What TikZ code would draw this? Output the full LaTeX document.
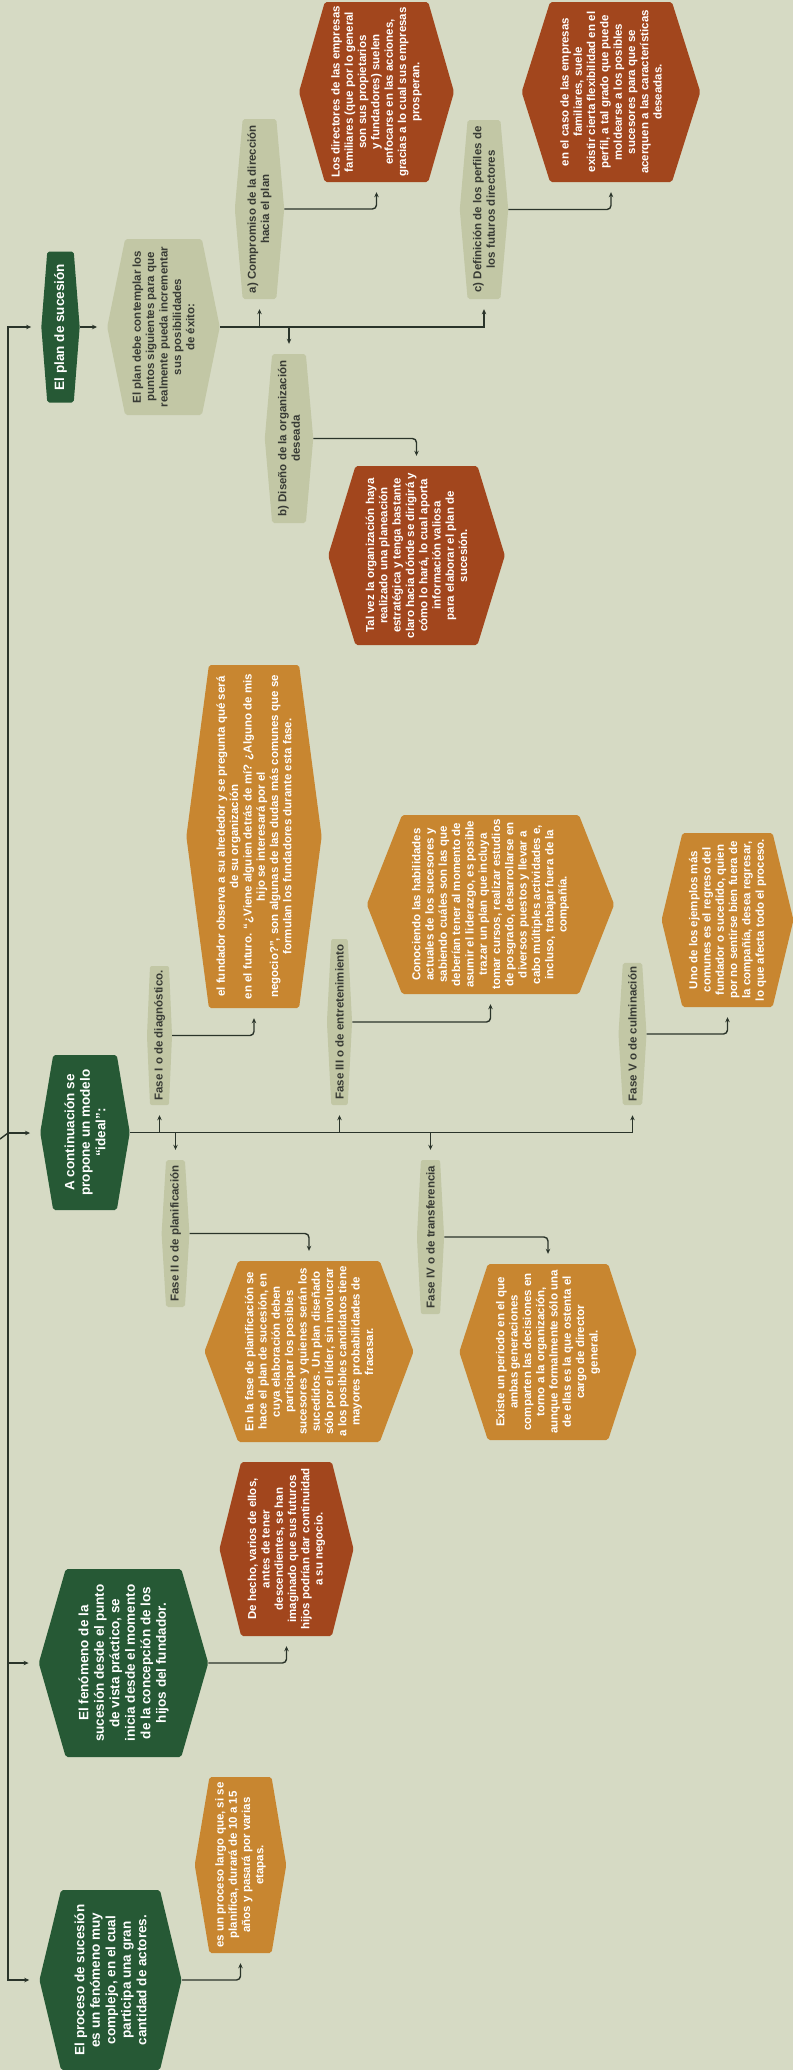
\documentclass[tikz,border=0pt]{standalone}
\usepackage{fontspec}
\setmainfont{Liberation Sans}
\usetikzlibrary{shapes.symbols,arrows.meta}
\definecolor{PageBg}{RGB}{214,218,196}
\definecolor{DeepGreen}{RGB}{38,89,53}
\definecolor{SoftOlive}{RGB}{194,199,165}
\definecolor{RustRed}{RGB}{162,70,29}
\definecolor{Ochre}{RGB}{200,134,48}
\definecolor{InkGray}{RGB}{55,58,52}
\definecolor{LineGray}{RGB}{42,52,42}

\begin{document}
\begin{tikzpicture}[
  x=1pt, y=-1pt,
  hexa/.style={signal, signal to=north and south, rotate=90, align=center, rounded corners=2pt, inner xsep=4pt, inner ysep=4pt},
  topic/.style={hexa, fill=DeepGreen, text=white, font=\bfseries\fontsize{13.5}{15.5}\selectfont},
  tag/.style={hexa, fill=SoftOlive, text=InkGray, font=\bfseries\fontsize{11.5}{13.4}\selectfont},
  redbox/.style={hexa, fill=RustRed, text=white, font=\bfseries\fontsize{11.5}{13.3}\selectfont},
  ochrebox/.style={hexa, fill=Ochre, text=white, font=\bfseries\fontsize{11.5}{13.3}\selectfont},
  conn/.style={draw=LineGray, line width=1.4pt, -{Stealth[length=5pt,width=4.5pt]}, shorten >=10pt},
  elbow/.style={conn, rounded corners=4pt}
]
\fill[PageBg] (0,0) rectangle (793,2070);
\useasboundingbox (0,0) rectangle (793,2070);

% main topics
\node[topic, minimum width=151, minimum height=37, signal pointer angle=171] (plan) at (60.5,327) {El plan de sucesión};
\node[topic, minimum width=155, minimum height=86, signal pointer angle=161] (cont) at (85,1132.5) {A continuación se\\propone un modelo\\“ideal”:};
\node[topic, minimum width=188, minimum height=163, signal pointer angle=148] (fen) at (123.5,1663) {El fenómeno de la\\sucesión desde el punto\\de vista práctico, se\\inicia desde el momento\\de la concepción de los\\hijos del fundador.};
\node[topic, minimum width=180, minimum height=137, signal pointer angle=153] (proc) at (110.5,1980) {El proceso de sucesión\\es un fenómeno muy\\complejo, en el cual\\participa una gran\\cantidad de actores.};

% plan de sucesion
\node[tag, minimum width=176, minimum height=111, signal pointer angle=157] (p1) at (163.5,327) {El plan debe contemplar los\\puntos siguientes para que\\realmente pueda incrementar\\sus posibilidades\\de éxito:};
\node[tag, minimum width=180, minimum height=49, signal pointer angle=170] (a) at (259.5,209) {a) Compromiso de la dirección\\hacia el plan};
\node[tag, minimum width=169, minimum height=48, signal pointer angle=170] (b) at (289,438.5) {b) Diseño de la organización\\deseada};
\node[tag, minimum width=179, minimum height=48, signal pointer angle=170] (c) at (484,209.5) {c) Definición de los perfiles de\\los futuros directores};
\node[redbox, minimum width=180, minimum height=155, signal pointer angle=148] (r1) at (376.5,92) {Los directores de las empresas\\familiares (que por lo general\\son sus propietarios\\y fundadores) suelen\\enfocarse en las acciones,\\gracias a lo cual sus empresas\\prosperan.};
\node[redbox, minimum width=180, minimum height=176, signal pointer angle=145] (r2) at (611,92) {en el caso de las empresas\\familiares, suele\\existir cierta flexibilidad en el\\perfil, a tal grado que puede\\moldearse a los posibles\\sucesores para que se\\acerquen a las características\\deseadas.};
\node[redbox, minimum width=179, minimum height=175, signal pointer angle=146] (r3) at (416.5,555.5) {Tal vez la organización haya\\realizado una planeación\\estratégica y tenga bastante\\claro hacia dónde se dirigirá y\\cómo lo hará, lo cual aporta\\información valiosa\\para elaborar el plan de\\sucesión.};

% modelo ideal
\node[tag, minimum width=139, minimum height=25, signal pointer angle=175] (f1) at (159.5,1035.5) {Fase I o de diagnóstico.};
\node[tag, minimum width=147, minimum height=27, signal pointer angle=173] (f2) at (175.5,1233.5) {Fase II o de planificación};
\node[tag, minimum width=166, minimum height=25, signal pointer angle=174] (f3) at (339.5,1022) {Fase III o de entretenimiento};
\node[tag, minimum width=154, minimum height=27, signal pointer angle=174] (f4) at (430.5,1237) {Fase IV o de transferencia};
\node[tag, minimum width=142, minimum height=28, signal pointer angle=173] (f5) at (632.5,1034) {Fase V o de culminación};
\node[ochrebox, minimum width=343, minimum height=134, signal pointer angle=165] (o1) at (254,836.5) {el fundador observa a su alrededor y se pregunta qué será\\de su organización\\en el futuro. “¿Viene alguien detrás de mí? ¿Alguno de mis\\hijo se interesará por el\\negocio?”, son algunas de las dudas más comunes que se\\formulan los fundadores durante esta fase.};
\node[ochrebox, minimum width=181, minimum height=208, signal pointer angle=139] (o2) at (309,1351.5) {En la fase de planificación se\\hace el plan de sucesión, en\\cuya elaboración deben\\participar los posibles\\sucesores y quienes serán los\\sucedidos. Un plan diseñado\\sólo por el líder, sin involucrar\\a los posibles candidatos tiene\\mayores probabilidades de\\fracasar.};
\node[ochrebox, minimum width=179, minimum height=247, signal pointer angle=137] (o3) at (490.5,904.5) {Conociendo las habilidades\\actuales de los sucesores y\\sabiendo cuáles son las que\\deberían tener al momento de\\asumir el liderazgo, es posible\\trazar un plan que incluya\\tomar cursos, realizar estudios\\de posgrado, desarrollarse en\\diversos puestos y llevar a\\cabo múltiples actividades e,\\incluso, trabajar fuera de la\\compañía.};
\node[ochrebox, minimum width=176, minimum height=176, signal pointer angle=144] (o4) at (548,1352) {Existe un periodo en el que\\ambas generaciones\\comparten las decisiones en\\torno a la organización,\\aunque formalmente sólo una\\de ellas es la que ostenta el\\cargo de director\\general.};
\node[ochrebox, minimum width=174, minimum height=131, signal pointer angle=153] (o5) at (727.5,920) {Uno de los ejemplos más\\comunes es el regreso del\\fundador o sucedido, quien\\por no sentirse bien fuera de\\la compañía, desea regresar,\\lo que afecta todo el proceso.};

% fenomeno y proceso
\node[redbox, minimum width=174, minimum height=133, signal pointer angle=152] (r4) at (286.5,1549) {De hecho, varios de ellos,\\antes de tener\\descendientes, se han\\imaginado que sus futuros\\hijos podrían dar continuidad\\a su negocio.};
\node[ochrebox, minimum width=176, minimum height=91, signal pointer angle=161] (o6) at (240.5,1865) {es un proceso largo que, si se\\planifica, durará de 10 a 15\\años y pasará por varias\\etapas.};

\coordinate (root) at (0,1139);
\coordinate (hub) at (8,1133);

% connectors
\draw[LineGray, line width=1.4pt] (root) -- (hub);
\draw[conn] (hub) |- (plan.north);
\draw[conn] (hub) -- (hub -| cont.north);
\draw[conn] (hub) |- (fen.north);
\draw[conn] (hub) |- (proc.north);

\draw[conn] (plan.south) -- (p1.north);
\draw[conn] (p1.south) -| (c.west);
\draw[conn] (p1.south -| a.west) -- (a.west);
\draw[conn] (p1.south -| b.east) -- (b.east);
\draw[elbow] (a.south) -| (r1.west);
\draw[elbow] (c.south) -| (r2.west);
\draw[elbow] (b.south) -| (r3.east);

\draw[conn] (cont.south) -| (f5.west);
\draw[conn] (cont.south -| f1.west) -- (f1.west);
\draw[conn] (cont.south -| f3.west) -- (f3.west);
\draw[conn] (cont.south -| f2.east) -- (f2.east);
\draw[conn] (cont.south -| f4.east) -- (f4.east);
\draw[elbow] (f1.south) -| (o1.west);
\draw[elbow] (f3.south) -| (o3.west);
\draw[elbow] (f5.south) -| (o5.west);
\draw[elbow] (f2.south) -| (o2.east);
\draw[elbow] (f4.south) -| (o4.east);

\draw[elbow] (fen.south) -| (r4.west);
\draw[elbow] (proc.south) -| (o6.west);
\end{tikzpicture}
\end{document}
